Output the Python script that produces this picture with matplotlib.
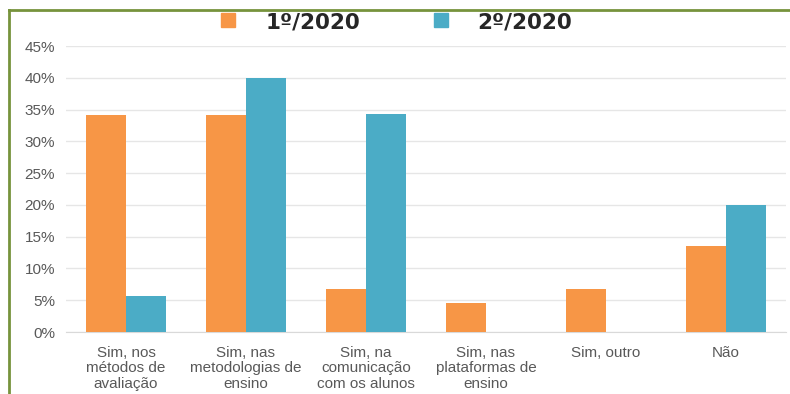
import numpy as np
import matplotlib.pyplot as plt
from matplotlib.lines import Line2D
from matplotlib.ticker import FuncFormatter

categories = [
    "Sim, nos\nmétodos de\navaliação",
    "Sim, nas\nmetodologias de\nensino",
    "Sim, na\ncomunicação\ncom os alunos",
    "Sim, nas\nplataformas de\nensino",
    "Sim, outro",
    "Não",
]
sem1 = [34.1, 34.1, 6.8, 4.5, 6.8, 13.6]
sem2 = [5.7, 40.0, 34.3, 0.0, 0.0, 20.0]
series_names = ["1º/2020", "2º/2020"]

ORANGE = "#F79646"
BLUE = "#4BACC6"
GREEN = "#77933C"


def main():
    fig = plt.figure(figsize=(7.9, 3.94), dpi=100)
    ax = fig.add_axes([66 / 790, 1 - 332 / 394, 720 / 790, 286 / 394])

    x = np.arange(len(categories))
    w = 1 / 3
    ax.bar(x - w / 2, sem1, width=w, color=ORANGE, zorder=3)
    ax.bar(x + w / 2, sem2, width=w, color=BLUE, zorder=3)

    ax.set_xlim(-0.5, len(categories) - 0.5)
    ax.set_ylim(0, 45)
    ax.set_yticks(range(0, 50, 5))
    ax.yaxis.set_major_formatter(FuncFormatter(lambda v, _: f"{int(v)}%"))
    ax.set_xticks(x)
    ax.set_xticklabels(categories, fontfamily="Liberation Sans", fontsize=11,
                       color="#595959", linespacing=1.13)
    for lab in ax.get_yticklabels():
        lab.set_fontfamily("Liberation Sans")
        lab.set_fontsize(11)
        lab.set_color("#595959")

    ax.grid(axis="y", color="#E6E6E6", linewidth=1, zorder=0)
    ax.tick_params(axis="both", length=0)
    ax.tick_params(axis="y", pad=8)
    ax.tick_params(axis="x", pad=10)
    for side in ["top", "right", "left"]:
        ax.spines[side].set_visible(False)
    ax.spines["bottom"].set_color("#D9D9D9")

    handles = [
        Line2D([], [], marker="s", linestyle="none", markersize=9.5,
               markerfacecolor=ORANGE, markeredgecolor=ORANGE),
        Line2D([], [], marker="s", linestyle="none", markersize=9.5,
               markerfacecolor=BLUE, markeredgecolor=BLUE),
    ]
    fig.legend(handles, series_names, loc="center", bbox_to_anchor=(0.493, 1 - 22 / 394),
               ncol=2, frameon=False, handletextpad=0.72, columnspacing=2.75,
               borderpad=0, borderaxespad=0,
               prop={"family": "DejaVu Sans", "weight": "bold", "size": 15.5},
               labelcolor="#262626")

    # green frame (top and left edges)
    fig.add_artist(Line2D([9 / 790, 1], [1 - 10 / 394, 1 - 10 / 394],
                          transform=fig.transFigure, color=GREEN, linewidth=2))
    fig.add_artist(Line2D([9 / 790, 9 / 790], [0, 1 - 10 / 394],
                          transform=fig.transFigure, color=GREEN, linewidth=2))

    fig.savefig("out.png", dpi=100)


if __name__ == "__main__":
    main()
